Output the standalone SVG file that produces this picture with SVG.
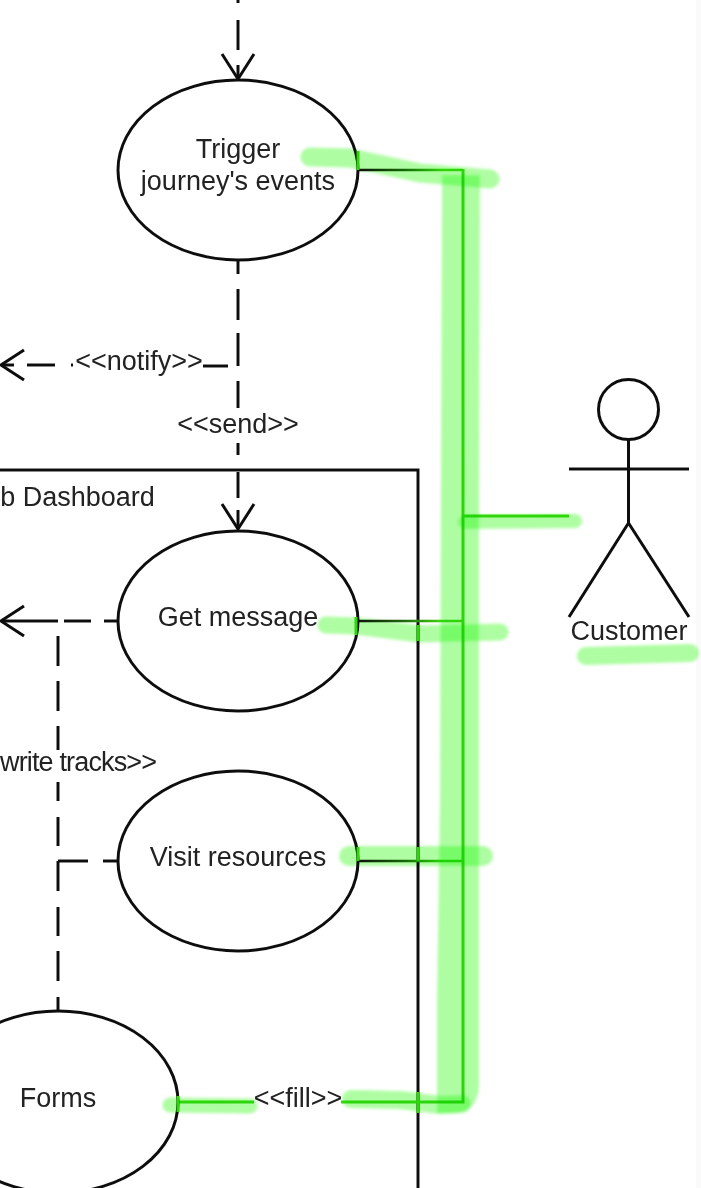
<svg xmlns="http://www.w3.org/2000/svg" width="701" height="1188" viewBox="0 0 701 1188">
<style>
text{font-family:"Liberation Sans",Arial,sans-serif;font-size:27px;fill:#222;text-anchor:middle}
.use{fill:#fff;stroke:#111;stroke-width:3}
.ln{fill:none;stroke:#111;stroke-width:3}
.dash{fill:none;stroke:#111;stroke-width:3;stroke-linecap:butt}
.hl{fill:none;stroke:#aefda2;mix-blend-mode:multiply;stroke-linecap:round;stroke-linejoin:round}
.g{fill:none;stroke:#3fd80e;stroke-width:3}
</style>
<defs>
<filter id="soft" x="-5%" y="-5%" width="110%" height="110%"><feGaussianBlur stdDeviation="1.5"/></filter>
<filter id="fine" x="-2%" y="-2%" width="104%" height="104%"><feGaussianBlur stdDeviation="0.45"/></filter>
<linearGradient id="g1" gradientUnits="userSpaceOnUse" x1="358" y1="0" x2="463" y2="0"><stop offset="0" stop-color="#111"/><stop offset="0.45" stop-color="#1f6a10"/><stop offset="0.8" stop-color="#3fd80e"/></linearGradient>
</defs>
<rect width="701" height="1188" fill="#fff"/>
<rect x="696" width="5" height="1188" fill="#fafafa"/>
<g filter="url(#fine)">
<g id="boundary"><path class="ln" d="M0,470H418V1188"/><text x="77.500" y="506">b Dashboard</text></g>
<g id="connectors">
<path class="dash" d="M238,0V3M238,20V50M238,65V78M238,260V274M238,289V320M238,333V366M238,381V408M238,443V455M238,472V498M238,510V528"/>
<path class="ln" d="M222,54L238,79L254,54"/>
<path class="ln" d="M222,504L238,529L254,504"/>
<path class="dash" d="M228,366H203M55,365H27M73,365H71M1,365H14"/>
<path class="ln" d="M24,350L1,365L24,380"/>
<text x="139" y="370">&lt;&lt;notify&gt;&gt;</text>
<text x="238" y="433">&lt;&lt;send&gt;&gt;</text>
<path class="dash" d="M118,621H104M91,621H64M58,621H1M58,636V666M58,681V711M58,726V750M58,782V801M58,817V846M58,861H88M103,861H118M58,861V891M58,907V936M58,951V981M58,997V1011"/>
<path class="ln" d="M24,606L1,621L24,636"/>
<text x="0" y="771" textLength="157" lengthAdjust="spacing" style="text-anchor:start">write tracks&gt;&gt;</text>
<path fill="none" stroke="url(#g1)" stroke-width="2.6" d="M358,170H463"/>
<path fill="none" stroke="url(#g1)" stroke-width="2.6" d="M358,621H463"/>
<path fill="none" stroke="url(#g1)" stroke-width="2.6" d="M358,861H463"/>
<path class="g" d="M463,169V1102H341M178,1102H254M463,516H569"/>
<text x="298" y="1107">&lt;&lt;fill&gt;&gt;</text>
</g>
<g id="trigger"><ellipse class="use" cx="238" cy="170" rx="120" ry="90"/><text x="238" y="158">Trigger</text><text x="238" y="190">journey's events</text></g>
<g id="get-message"><ellipse class="use" cx="238" cy="621" rx="120" ry="90"/><text x="238" y="626">Get message</text></g>
<g id="visit-resources"><ellipse class="use" cx="238" cy="861" rx="120" ry="90"/><text x="238" y="866">Visit resources</text></g>
<g id="forms"><ellipse class="use" cx="58" cy="1102" rx="120" ry="91"/><text x="58" y="1107">Forms</text></g>
<g id="customer">
<circle class="ln" cx="628.5" cy="409.5" r="30"/>
<path class="ln" d="M628.5,439.500V523M569,469H689M569,617L628.500,523L689,617"/>
<text x="629" y="640">Customer</text>
</g>
<path class="g" d="M358,151V170M418,625V641M418,847V861M418,1092V1113M356,617V635M358,847V861M178,1096V1112"/>
</g>
<g id="highlights" filter="url(#soft)" style="mix-blend-mode:multiply">
<path fill="#aefda2" style="mix-blend-mode:multiply" d="M442,175H480L479,520L479,1085Q478,1113 452,1113L437,1113V1000L440,800Z"/>
<path class="hl" stroke-width="19" d="M310,157L350,158L420,173L490,179"/>
<path class="hl" stroke-width="14" d="M465,522L575,521"/>
<path class="hl" stroke-width="17" d="M326,625L355,626L420,634L500,632"/>
<path class="hl" stroke-width="18" d="M586,656L690,653"/>
<path class="hl" stroke-width="20" d="M349,856L483,856"/>
<path class="hl" stroke-width="15" d="M170,1105L250,1106"/>
<path class="hl" stroke-width="18" d="M351,1099L400,1100L440,1105L462,1104"/>
</g>
</svg>
